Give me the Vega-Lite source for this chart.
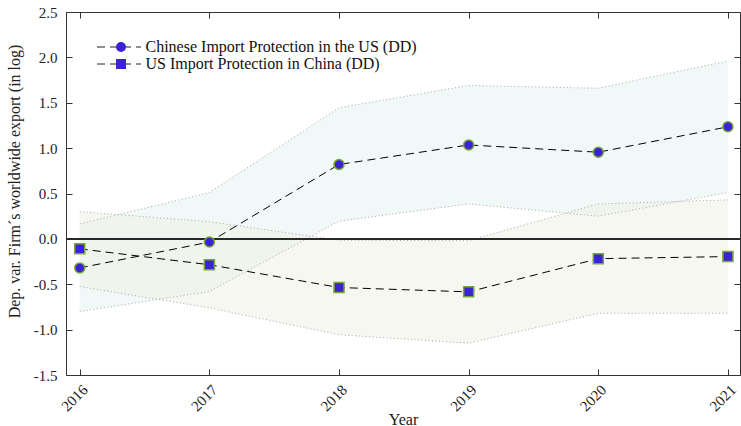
{
  "$schema": "https://vega.github.io/schema/vega-lite/v6.json",
  "width": 674,
  "height": 363,
  "autosize": {"type": "none"},
  "padding": {"left": 66, "top": 12, "right": 1, "bottom": 51},
  "background": "white",
  "config": {
    "view": {"stroke": "#333333", "strokeWidth": 1},
    "font": "Liberation Serif",
    "axis": {
      "labelFont": "Liberation Serif",
      "titleFont": "Liberation Serif",
      "labelColor": "#222222",
      "titleColor": "#222222",
      "labelFontSize": 15,
      "titleFontSize": 16,
      "titleFontWeight": "normal",
      "grid": false,
      "domain": false,
      "tickColor": "#333333",
      "tickWidth": 1,
      "tickSize": 6,
      "offset": -6,
      "zindex": 1
    },
    "legend": {
      "labelFont": "Liberation Serif",
      "labelFontSize": 16,
      "labelColor": "#111111",
      "labelLimit": 500
    }
  },
  "data": {
    "values": [
      {"year": 2016, "series": "Chinese Import Protection in the US (DD)", "est": -0.32, "lo": -0.80, "hi": 0.165},
      {"year": 2017, "series": "Chinese Import Protection in the US (DD)", "est": -0.035, "lo": -0.58, "hi": 0.51},
      {"year": 2018, "series": "Chinese Import Protection in the US (DD)", "est": 0.82, "lo": 0.195, "hi": 1.445},
      {"year": 2019, "series": "Chinese Import Protection in the US (DD)", "est": 1.035, "lo": 0.385, "hi": 1.69},
      {"year": 2020, "series": "Chinese Import Protection in the US (DD)", "est": 0.955, "lo": 0.25, "hi": 1.66},
      {"year": 2021, "series": "Chinese Import Protection in the US (DD)", "est": 1.235, "lo": 0.51, "hi": 1.96},
      {"year": 2016, "series": "US Import Protection in China (DD)", "est": -0.11, "lo": -0.525, "hi": 0.30},
      {"year": 2017, "series": "US Import Protection in China (DD)", "est": -0.285, "lo": -0.76, "hi": 0.19},
      {"year": 2018, "series": "US Import Protection in China (DD)", "est": -0.536, "lo": -1.057, "hi": -0.015},
      {"year": 2019, "series": "US Import Protection in China (DD)", "est": -0.584, "lo": -1.149, "hi": -0.02},
      {"year": 2020, "series": "US Import Protection in China (DD)", "est": -0.218, "lo": -0.82, "hi": 0.385},
      {"year": 2021, "series": "US Import Protection in China (DD)", "est": -0.195, "lo": -0.82, "hi": 0.43}
    ]
  },
  "resolve": {"axis": {"x": "independent", "y": "independent"}},
  "layer": [
    {
      "mark": {"type": "area", "fillOpacity": 0.5, "strokeWidth": 0},
      "encoding": {
        "x": {
          "field": "year", "type": "quantitative",
          "scale": {"domain": [2015.894, 2021.093], "nice": false, "zero": false},
          "axis": {
            "orient": "bottom",
            "values": [2016, 2017, 2018, 2019, 2020, 2021],
            "format": "d",
            "labelAngle": -45,
            "labelPadding": 7,
            "title": "Year",
            "titleY": 50,
            "titleBaseline": "middle"
          }
        },
        "y": {
          "field": "lo", "type": "quantitative",
          "scale": {"domain": [-1.5, 2.5], "nice": false, "zero": false},
          "axis": {
            "orient": "left",
            "values": [-1.5, -1, -0.5, 0, 0.5, 1, 1.5, 2, 2.5],
            "labelExpr": "replace(datum.label, '\u2212', '-')",
            "labelPadding": 9,
            "title": "Dep. var. Firm´s worldwide export (in log)",
            "titleAngle": -90,
            "titleX": -58,
            "titleY": 169,
            "titleAlign": "center",
            "titleBaseline": "middle"
          }
        },
        "y2": {"field": "hi"},
        "fill": {
          "field": "series", "type": "nominal",
          "scale": {
            "domain": ["US Import Protection in China (DD)", "Chinese Import Protection in the US (DD)"],
            "range": ["#eef0e2", "#e4f1f1"]
          },
          "legend": null
        }
      }
    },
    {
      "mark": {"type": "line", "stroke": "#a8a8a8", "strokeWidth": 1, "strokeDash": [1, 2.5]},
      "encoding": {
        "x": {"field": "year", "type": "quantitative", "axis": null},
        "y": {"field": "lo", "type": "quantitative", "axis": null},
        "detail": {"field": "series"}
      }
    },
    {
      "mark": {"type": "line", "stroke": "#a8a8a8", "strokeWidth": 1, "strokeDash": [1, 2.5]},
      "encoding": {
        "x": {"field": "year", "type": "quantitative", "axis": null},
        "y": {"field": "hi", "type": "quantitative", "axis": null},
        "detail": {"field": "series"}
      }
    },
    {
      "mark": {"type": "rule", "stroke": "#2a2a2a", "strokeWidth": 1.5},
      "encoding": {
        "y": {"datum": 0, "type": "quantitative", "axis": null}
      }
    },
    {
      "mark": {"type": "line", "stroke": "black", "strokeWidth": 1},
      "encoding": {
        "x": {"field": "year", "type": "quantitative", "axis": null},
        "y": {"field": "est", "type": "quantitative", "axis": null},
        "strokeDash": {
          "field": "series", "type": "nominal",
          "scale": {"range": [[8, 5], [8, 5]]},
          "legend": {
            "title": null,
            "orient": "none",
            "legendX": 30.5,
            "legendY": 26.5,
            "padding": 0,
            "rowPadding": 0,
            "clipHeight": 17,
            "symbolType": "stroke",
            "symbolSize": 1936,
            "symbolStrokeWidth": 1,
            "symbolStrokeColor": "#222222",
            "labelOffset": 4,
            "encode": {"symbols": {"update": {"strokeDash": {"value": [11, 22]}, "stroke": {"value": "#222222"}}}}
          }
        }
      }
    },
    {
      "mark": {"type": "point", "filled": true, "fill": "#3b22d4", "stroke": "#78a53a", "strokeWidth": 1.5, "opacity": 1, "size": 100},
      "encoding": {
        "x": {
          "field": "year", "type": "quantitative",
          "axis": {"orient": "top", "values": [2016, 2017, 2018, 2019, 2020, 2021], "labels": false, "title": null}
        },
        "y": {
          "field": "est", "type": "quantitative",
          "axis": {"orient": "right", "values": [-1.5, -1, -0.5, 0, 0.5, 1, 1.5, 2, 2.5], "labels": false, "title": null}
        },
        "shape": {
          "field": "series", "type": "nominal",
          "scale": {
            "domain": ["Chinese Import Protection in the US (DD)", "US Import Protection in China (DD)"],
            "range": ["circle", "square"]
          },
          "legend": {
            "title": null,
            "orient": "none",
            "legendX": 47,
            "legendY": 26.5,
            "padding": 0,
            "rowPadding": 0,
            "clipHeight": 17,
            "symbolSize": 100,
            "symbolFillColor": "#3b22d4",
            "symbolStrokeColor": "#78a53a",
            "symbolStrokeWidth": 1.5,
            "labelExpr": "''"
          }
        }
      }
    }
  ]
}
